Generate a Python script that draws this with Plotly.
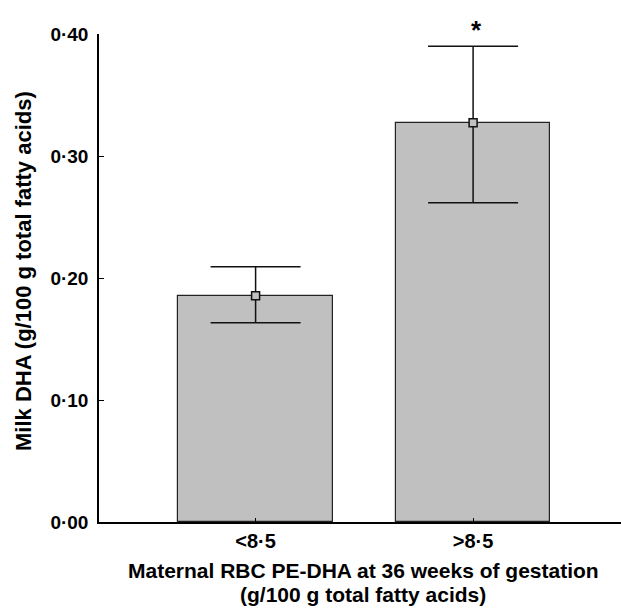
import plotly.graph_objects as go

categories = ["<8·5", ">8·5"]
means = [0.1855, 0.3273]
err_plus = [0.0237, 0.0627]
err_minus = [0.0222, 0.0656]
y_ticks = [0.0, 0.1, 0.2, 0.3, 0.4]
y_ticklabels = ["0·00", "0·10", "0·20", "0·30", "0·40"]
significance = ["", "*"]
x_title_lines = ["Maternal RBC PE-DHA at 36 weeks of gestation", "(g/100 g total fatty acids)"]
y_title = "Milk DHA (g/100 g total fatty acids)"

xpos = list(range(len(categories)))
FONT = "Liberation Sans, Arial, sans-serif"

fig = go.Figure()
fig.add_trace(go.Bar(
    x=xpos, y=means, width=0.71,
    marker=dict(color="#c0c0c0", line=dict(color="#222222", width=1.2)),
    showlegend=False, hoverinfo="skip",
))
fig.add_trace(go.Scatter(
    x=xpos, y=means, mode="markers",
    marker=dict(symbol="square", size=8, color="#c0c0c0",
                line=dict(color="#111111", width=1.5)),
    error_y=dict(type="data", symmetric=False, array=err_plus, arrayminus=err_minus,
                 color="#111111", thickness=1.5, width=45),
    showlegend=False, hoverinfo="skip", cliponaxis=False,
))
for xi, m, ep, s in zip(xpos, means, err_plus, significance):
    if s:
        fig.add_annotation(x=xi, y=m + ep, text="<b>" + s + "</b>", showarrow=False,
                           yshift=16, xshift=3, font=dict(family=FONT, size=26, color="#000"))

# x-axis title as two lines (tighter line spacing as in the reference)
for i, line in enumerate(x_title_lines):
    fig.add_annotation(xref="paper", yref="paper", x=0.5, y=0, xanchor="center", yanchor="middle",
                       yshift=-48 - 24 * i, xshift=3, text="<b>%s</b>" % line, showarrow=False,
                       font=dict(family=FONT, size=21, color="#000"))

# y-axis title
fig.add_annotation(xref="paper", yref="paper", x=0, y=0.5, xanchor="center", yanchor="middle",
                   xshift=-76, yshift=7, textangle=-90, text="<b>%s</b>" % y_title, showarrow=False,
                   font=dict(family=FONT, size=22, color="#000"))

fig.update_layout(
    width=621, height=611,
    margin=dict(l=99, r=0, t=34, b=89),
    paper_bgcolor="white", plot_bgcolor="white",
    font=dict(family=FONT, color="#000"),
    bargap=0,
)
fig.update_xaxes(
    range=[-0.72, 1.68], tickvals=xpos, ticktext=["<b>%s</b>" % c for c in categories],
    ticks="inside", ticklen=4, tickwidth=1, tickcolor="#000",
    showline=True, linecolor="#000", linewidth=1.5, showgrid=False, zeroline=False,
    tickfont=dict(family=FONT, size=20, color="#000"),
)
fig.update_yaxes(
    range=[0, 0.40], tickvals=y_ticks, ticktext=["<b>%s</b>" % t for t in y_ticklabels],
    ticks="inside", ticklen=5, tickwidth=1, tickcolor="#000",
    showline=True, linecolor="#000", linewidth=1.5, showgrid=False, zeroline=False,
    tickfont=dict(family=FONT, size=19, color="#000"), ticklabelstandoff=5,
)
fig.write_html("out.html", config={"displayModeBar": False},
               post_script="document.body.style.margin='0';")
